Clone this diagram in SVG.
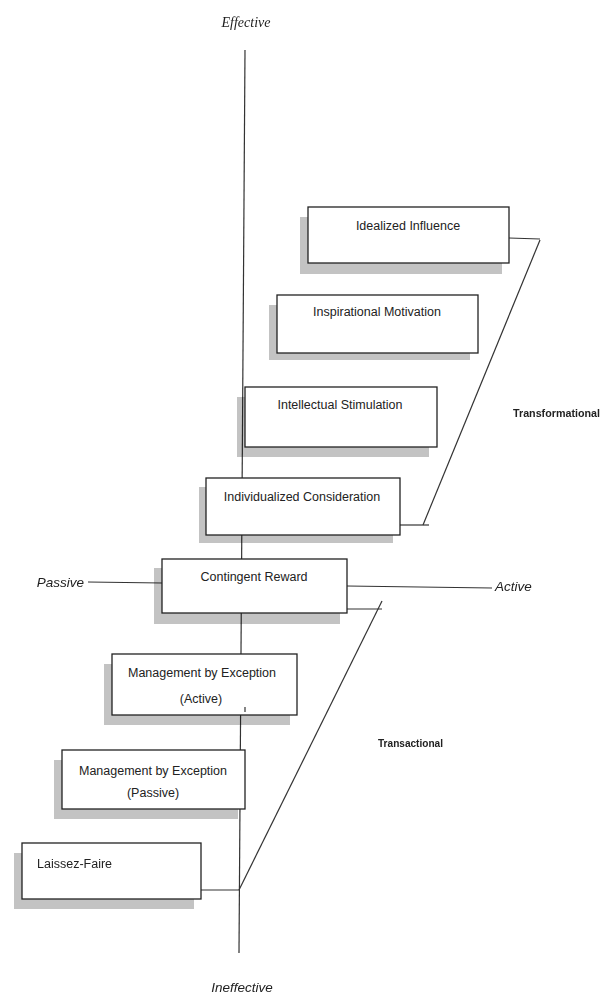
<svg xmlns="http://www.w3.org/2000/svg" width="608" height="1001" viewBox="0 0 608 1001">
<style>
.shadow{fill:#c3c3c3;mix-blend-mode:multiply}
.box{fill:#ffffff;stroke:#222222;stroke-width:1.3}
.t{font-family:"Liberation Sans",Arial,sans-serif;font-size:12.5px;fill:#222222;text-anchor:middle}
.ln{stroke:#333333;stroke-width:1.2;fill:none}
.ax{font-family:"Liberation Sans",Arial,sans-serif;font-size:13.5px;font-style:italic;fill:#222222}
.grp{font-family:"Liberation Sans",Arial,sans-serif;font-size:11.5px;font-weight:bold;fill:#222222}
</style>
<rect width="608" height="1001" fill="#ffffff"/>
<g id="connectors">
<line class="ln" x1="245" y1="50" x2="239" y2="953"/>
<line class="ln" x1="88" y1="582" x2="162" y2="583"/>
<line class="ln" x1="347" y1="586" x2="492" y2="588"/>
<polyline class="ln" points="509,238 540,239"/>
<line class="ln" x1="540" y1="240" x2="423" y2="525"/>
<line class="ln" x1="400" y1="525" x2="429" y2="525"/>
<line class="ln" x1="347" y1="609" x2="382" y2="609"/>
<line class="ln" x1="382" y1="601" x2="239" y2="890"/>
<line class="ln" x1="201" y1="890" x2="239" y2="890"/>
</g>
<g id="idealized-influence">
<rect class="shadow" x="300" y="217" width="202" height="57"/>
<rect class="box" x="308" y="207" width="201" height="56"/>
<text class="t" x="408" y="230">Idealized Influence</text>
</g>
<g id="inspirational-motivation">
<rect class="shadow" x="269" y="305" width="201" height="55"/>
<rect class="box" x="277" y="295" width="201" height="58"/>
<text class="t" x="377" y="316">Inspirational Motivation</text>
</g>
<g id="intellectual-stimulation">
<rect class="shadow" x="237" y="397" width="192" height="60"/>
<rect class="box" x="245" y="387" width="192" height="60"/>
<text class="t" x="340" y="409">Intellectual Stimulation</text>
</g>
<g id="individualized-consideration">
<rect class="shadow" x="199" y="487" width="194" height="56"/>
<rect class="box" x="206" y="478" width="194" height="57"/>
<text class="t" x="302" y="501">Individualized Consideration</text>
</g>
<g id="contingent-reward">
<rect class="shadow" x="154" y="568" width="186" height="56"/>
<rect class="box" x="162" y="559" width="185" height="54"/>
<text class="t" x="254" y="581">Contingent Reward</text>
</g>
<g id="mbe-active">
<rect class="shadow" x="104" y="664" width="186" height="61"/>
<rect class="box" x="112" y="654" width="185" height="61"/>
<text class="t" x="202" y="677">Management by Exception</text>
<text class="t" x="201" y="703">(Active)</text>
<line class="ln" x1="245" y1="707" x2="245" y2="712"/>
</g>
<g id="mbe-passive">
<rect class="shadow" x="54" y="760" width="184" height="59"/>
<rect class="box" x="62" y="750" width="183" height="59"/>
<text class="t" x="153" y="775">Management by Exception</text>
<text class="t" x="153" y="797">(Passive)</text>
</g>
<g id="laissez-faire">
<rect class="shadow" x="14" y="853" width="180" height="56"/>
<rect class="box" x="22" y="843" width="179" height="56"/>
<text class="t" x="37" y="868" style="text-anchor:start">Laissez-Faire</text>
</g>
<g id="labels">
<text x="246" y="27" style="font-family:'Liberation Serif','Times New Roman',serif;font-size:14px;font-style:italic;fill:#222;text-anchor:middle">Effective</text>
<text class="ax" x="242" y="992" text-anchor="middle">Ineffective</text>
<text class="ax" x="84" y="587" text-anchor="end">Passive</text>
<text class="ax" x="495" y="591">Active</text>
<text class="grp" x="513" y="417" textLength="87" lengthAdjust="spacingAndGlyphs">Transformational</text>
<text class="grp" x="378" y="747" textLength="65" lengthAdjust="spacingAndGlyphs">Transactional</text>
</g>
</svg>
